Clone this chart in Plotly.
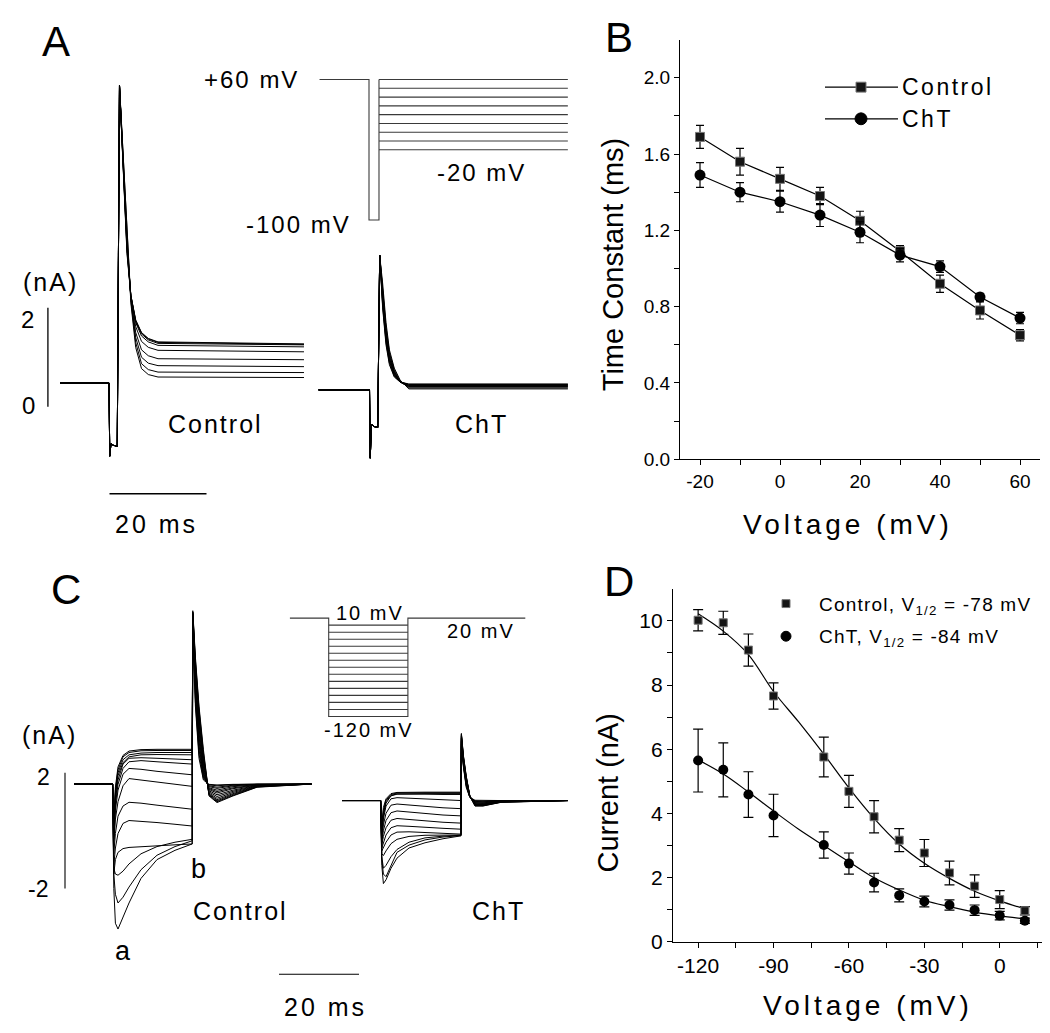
import plotly.graph_objects as go

W, H = 1050, 1033
FONT = "Liberation Sans, Arial, Helvetica, sans-serif"

# ---------------- Panel A : tail currents (ms, nA) ----------------
A_CTRL_T = [-10.2, -0.1, 0.05, 0.3, 0.8, 1.6, 2.06, 2.8, 3.6, 4.4, 5.4, 6.6, 8.0, 10.0, 40.1]
A_CTRL_ONSET = [0.48, 0.48, -1.0, -0.75, -0.78, -0.8, 6.5]
A_CTRL_DECAY = [
    [4.70, 3.10, 2.25, 1.75, 1.50, 1.38, 1.31, 1.27],
    [4.75, 3.15, 2.25, 1.75, 1.49, 1.37, 1.30, 1.26],
    [4.80, 3.20, 2.25, 1.72, 1.47, 1.35, 1.28, 1.25],
    [4.85, 3.25, 2.25, 1.70, 1.43, 1.31, 1.24, 1.21],
    [4.90, 3.30, 2.25, 1.62, 1.32, 1.20, 1.14, 1.11],
    [4.95, 3.35, 2.20, 1.50, 1.15, 1.03, 0.97, 0.95],
    [5.00, 3.40, 2.20, 1.40, 1.00, 0.88, 0.83, 0.81],
    [5.05, 3.45, 2.15, 1.30, 0.87, 0.75, 0.70, 0.69],
    [5.10, 3.50, 2.10, 1.20, 0.77, 0.65, 0.60, 0.59],
]
A_CHT_T = [-10.6, -0.1, 0.05, 0.3, 0.8, 1.6, 2.0, 2.6, 3.3, 4.0, 5.0, 6.2, 8.0, 40.8]
A_CHT_ONSET = [0.34, 0.34, -1.04, -0.35, -0.40, -0.42, 3.06]
A_CHT_DECAY = [
    [2.00, 1.25, 0.85, 0.60, 0.50, 0.46, 0.46],
    [2.05, 1.30, 0.88, 0.62, 0.50, 0.45, 0.45],
    [2.10, 1.35, 0.92, 0.64, 0.50, 0.44, 0.44],
    [2.15, 1.40, 0.95, 0.66, 0.50, 0.43, 0.43],
    [2.20, 1.45, 0.98, 0.68, 0.50, 0.42, 0.42],
    [2.25, 1.50, 1.02, 0.70, 0.50, 0.41, 0.41],
    [2.30, 1.55, 1.06, 0.72, 0.50, 0.40, 0.40],
    [2.40, 1.62, 1.10, 0.75, 0.52, 0.38, 0.38],
    [2.50, 1.70, 1.15, 0.78, 0.54, 0.36, 0.36],
]
# voltage protocol A (ms, mV)
PROT_A_START_MS = -10.2
PROT_A_PRE_END_MS = 2.06
PROT_A_END_MS = 41.0
PROT_A_HOLD_MV = 60
PROT_A_PRE_MV = -100
PROT_A_STEPS_MV = [60, 50, 40, 30, 20, 10, 0, -10, -20]

# ---------------- Panel B ----------------
B_VOLT = [-20, -10, 0, 10, 20, 30, 40, 50, 60]
B_CTRL = [1.69, 1.56, 1.47, 1.38, 1.25, 1.09, 0.92, 0.78, 0.65]
B_CTRL_ERR = [0.06, 0.07, 0.06, 0.045, 0.05, 0.03, 0.045, 0.045, 0.03]
B_CHT = [1.49, 1.40, 1.35, 1.28, 1.19, 1.07, 1.01, 0.85, 0.74]
B_CHT_ERR = [0.065, 0.05, 0.055, 0.06, 0.055, 0.035, 0.03, 0.02, 0.03]
B_XTICKS = [-20, -10, 0, 10, 20, 30, 40, 50, 60]
B_XLABELS = ["-20", "", "0", "", "20", "", "40", "", "60"]
B_YTICKS = [0.0, 0.2, 0.4, 0.6, 0.8, 1.0, 1.2, 1.4, 1.6, 1.8, 2.0]
B_YLABELS = ["0.0", "", "0.4", "", "0.8", "", "1.2", "", "1.6", "", "2.0"]

# ---------------- Panel C : Ih traces (ms, nA) ----------------
C_CTRL_T = [-9.75, -0.1, 0.2, 0.6, 1.25, 2.5, 4.0, 7.0, 11.0, 15.5, 19.8,
            19.95, 20.6, 21.5, 22.6, 24.0, 26.0, 30.0, 36.0, 49.6]
C_CTRL_BASE = 1.61
C_CTRL_STEP = [
    [0.3, 1.5, 2.2, 2.6, 2.75, 2.8, 2.81, 2.81, 2.81],
    [0.2, 1.4, 2.1, 2.55, 2.7, 2.76, 2.77, 2.77, 2.77],
    [0.1, 1.3, 2.0, 2.45, 2.62, 2.68, 2.7, 2.7, 2.7],
    [0.0, 1.2, 1.9, 2.35, 2.55, 2.62, 2.63, 2.62, 2.62],
    [-0.1, 1.05, 1.75, 2.3, 2.5, 2.52, 2.5, 2.47, 2.45],
    [-0.2, 0.9, 1.6, 2.15, 2.38, 2.42, 2.38, 2.34, 2.3],
    [-0.3, 0.7, 1.4, 1.95, 2.15, 2.12, 2.05, 1.98, 1.93],
    [-0.5, 0.4, 1.0, 1.55, 1.8, 1.75, 1.67, 1.6, 1.53],
    [-0.8, -0.1, 0.5, 0.85, 0.98, 0.95, 0.88, 0.8, 0.74],
    [-1.2, -0.6, -0.1, 0.25, 0.35, 0.33, 0.28, 0.22, 0.16],
    [-1.5, -1.0, -0.75, -0.62, -0.58, -0.55, -0.52, -0.49, -0.46],
    [-1.3, -1.5, -1.54, -1.4, -1.15, -0.8, -0.55, -0.4, -0.3],
    [-1.5, -2.2, -2.5, -2.3, -1.95, -1.35, -0.85, -0.55, -0.35],
    [-2.0, -3.2, -3.4, -3.0, -2.5, -1.65, -1.0, -0.68, -0.46],
]
C_CTRL_TAIL = [
    [7.20, 4.30, 2.50, 1.75, 1.60, 1.58, 1.60, 1.61, 1.61],
    [7.25, 4.45, 2.65, 1.80, 1.58, 1.55, 1.59, 1.61, 1.61],
    [7.30, 4.60, 2.80, 1.85, 1.55, 1.50, 1.57, 1.60, 1.61],
    [7.30, 4.75, 2.95, 1.90, 1.52, 1.46, 1.55, 1.60, 1.61],
    [7.35, 4.90, 3.10, 1.95, 1.48, 1.40, 1.52, 1.59, 1.61],
    [7.35, 5.05, 3.25, 2.02, 1.45, 1.35, 1.48, 1.58, 1.61],
    [7.40, 5.20, 3.40, 2.10, 1.42, 1.30, 1.45, 1.57, 1.61],
    [7.40, 5.35, 3.55, 2.20, 1.38, 1.24, 1.40, 1.56, 1.61],
    [7.45, 5.50, 3.70, 2.30, 1.34, 1.18, 1.36, 1.55, 1.61],
    [7.50, 5.60, 3.85, 2.40, 1.30, 1.12, 1.32, 1.54, 1.61],
    [7.50, 5.70, 4.00, 2.50, 1.27, 1.07, 1.28, 1.53, 1.61],
    [7.55, 5.80, 4.10, 2.60, 1.25, 1.03, 1.25, 1.52, 1.61],
    [7.55, 5.90, 4.20, 2.70, 1.22, 1.00, 1.22, 1.51, 1.61],
    [7.60, 6.00, 4.30, 2.80, 1.20, 0.97, 1.20, 1.50, 1.61],
]
C_CHT_T = [-9.75, -0.1, 0.2, 0.6, 1.25, 2.5, 4.0, 7.0, 11.0, 15.5, 20.0,
           20.1, 20.6, 21.3, 22.2, 23.5, 25.5, 30.0, 46.75]
C_CHT_BASE = 1.04
C_CHT_STEP = [
    [0.2, 0.8, 1.1, 1.28, 1.32, 1.33, 1.33, 1.33, 1.33],
    [0.1, 0.7, 1.05, 1.25, 1.3, 1.31, 1.31, 1.31, 1.31],
    [0.0, 0.6, 1.0, 1.22, 1.27, 1.28, 1.28, 1.28, 1.28],
    [-0.1, 0.5, 0.95, 1.2, 1.26, 1.27, 1.26, 1.25, 1.25],
    [-0.2, 0.4, 0.85, 1.1, 1.14, 1.12, 1.09, 1.06, 1.04],
    [-0.3, 0.2, 0.6, 0.88, 0.92, 0.88, 0.83, 0.79, 0.76],
    [-0.4, 0.0, 0.35, 0.62, 0.68, 0.64, 0.58, 0.54, 0.51],
    [-0.5, -0.2, 0.1, 0.36, 0.42, 0.38, 0.33, 0.29, 0.26],
    [-0.6, -0.4, -0.15, 0.1, 0.17, 0.15, 0.11, 0.08, 0.05],
    [-0.7, -0.6, -0.4, -0.15, -0.05, -0.04, -0.07, -0.1, -0.12],
    [-0.8, -0.86, -0.7, -0.45, -0.3, -0.2, -0.16, -0.15, -0.15],
    [-0.9, -1.3, -1.2, -0.9, -0.65, -0.4, -0.25, -0.19, -0.16],
    [-1.0, -1.5, -1.59, -1.2, -0.75, -0.5, -0.32, -0.22, -0.17],
    [-1.2, -1.83, -1.7, -1.3, -0.95, -0.6, -0.42, -0.28, -0.18],
]
C_CHT_TAIL = [
    [3.00, 2.20, 1.50, 1.15, 1.05, 1.04, 1.04, 1.04],
    [3.05, 2.25, 1.55, 1.15, 1.03, 1.02, 1.04, 1.04],
    [3.10, 2.28, 1.58, 1.16, 1.01, 1.00, 1.03, 1.04],
    [3.12, 2.32, 1.62, 1.16, 0.99, 0.98, 1.03, 1.04],
    [3.15, 2.35, 1.65, 1.17, 0.97, 0.96, 1.02, 1.04],
    [3.18, 2.38, 1.68, 1.17, 0.95, 0.94, 1.02, 1.04],
    [3.20, 2.40, 1.72, 1.18, 0.93, 0.92, 1.01, 1.04],
    [3.22, 2.43, 1.75, 1.18, 0.92, 0.91, 1.01, 1.04],
    [3.25, 2.46, 1.78, 1.19, 0.90, 0.90, 1.00, 1.04],
    [3.27, 2.49, 1.80, 1.19, 0.89, 0.89, 1.00, 1.04],
    [3.30, 2.52, 1.83, 1.20, 0.88, 0.88, 0.99, 1.04],
    [3.32, 2.55, 1.85, 1.20, 0.87, 0.87, 0.99, 1.04],
    [3.34, 2.58, 1.88, 1.20, 0.86, 0.86, 0.98, 1.04],
    [3.36, 2.60, 1.90, 1.20, 0.85, 0.85, 0.98, 1.04],
]
# voltage protocol C (ms, mV)
PROT_C_START_MS = -9.7
PROT_C_STEP_END_MS = 19.8
PROT_C_END_MS = 49.15
PROT_C_HOLD_MV = 20
PROT_C_STEPS_MV = [10, 0, -10, -20, -30, -40, -50, -60, -70, -80, -90, -100, -110, -120]

# ---------------- Panel D ----------------
D_VOLT = [-120, -110, -100, -90, -70, -60, -50, -40, -30, -20, -10, 0, 10]
D_CTRL = [10.02, 9.94, 9.09, 7.66, 5.76, 4.69, 3.90, 3.17, 2.77, 2.15, 1.74, 1.32, 0.97]
D_CTRL_ERR = [0.33, 0.36, 0.50, 0.41, 0.62, 0.50, 0.50, 0.36, 0.42, 0.37, 0.35, 0.28, 0.13]
D_CHT = [5.65, 5.36, 4.59, 3.94, 3.02, 2.44, 1.85, 1.45, 1.26, 1.15, 0.99, 0.82, 0.66]
D_CHT_ERR = [0.98, 0.84, 0.71, 0.66, 0.41, 0.33, 0.29, 0.20, 0.17, 0.16, 0.16, 0.13, 0.08]
D_FIT_V = [-120, -110, -100, -90, -80, -70, -60, -50, -40, -30, -20, -10, 0, 10]
D_FIT_CTRL = [10.22, 9.68, 8.95, 7.80, 6.85, 5.85, 4.80, 3.85, 3.05, 2.45, 1.98, 1.58, 1.28, 1.03]
D_FIT_CHT = [5.67, 5.23, 4.67, 4.08, 3.51, 3.00, 2.50, 2.00, 1.62, 1.30, 1.10, 0.93, 0.81, 0.72]
D_XTICKS = [-120, -105, -90, -75, -60, -45, -30, -15, 0, 15]
D_XLABELS = ["-120", "", "-90", "", "-60", "", "-30", "", "0", ""]
D_YTICKS = list(range(0, 11))
D_YLABELS = ["0", "", "2", "", "4", "", "6", "", "8", "", "10"]

SCALE_A_NA = 2
SCALE_A_MS = 20
SCALE_C_NA = 2
SCALE_C_MS = 20


# ---------------- helpers ----------------
def xdom(px0, px1, origin, scale):
    return dict(domain=[px0 / W, px1 / W], range=[(px0 - origin) / scale, (px1 - origin) / scale])


def ydom(py_top, py_bot, zero, scale):
    return dict(domain=[1 - py_bot / H, 1 - py_top / H], range=[(zero - py_bot) / scale, (zero - py_top) / scale])


def hidden(d, anchor):
    d.update(visible=False, showgrid=False, zeroline=False, fixedrange=True, anchor=anchor)
    return d


def txt(s, px, py, size, xanchor="center", ls=0, angle=0):
    if ls:
        s = f"<span style='letter-spacing:{ls}px'>{s}</span>"
    return dict(text=s, x=px / W, y=1 - py / H, xref="paper", yref="paper",
                xanchor=xanchor, yanchor="middle", showarrow=False, textangle=angle,
                borderpad=0, font=dict(family=FONT, size=size, color="black"))


def pline(px0, py0, px1, py1, width=1.2, color="black"):
    return dict(type="line", xref="paper", yref="paper", x0=px0 / W, y0=1 - py0 / H,
                x1=px1 / W, y1=1 - py1 / H, line=dict(color=color, width=width))


fig = go.Figure()
trace_line = dict(color="black", width=1)

# Panel A traces
for row in A_CTRL_DECAY:
    fig.add_trace(go.Scatter(x=A_CTRL_T, y=A_CTRL_ONSET + row, mode="lines", line=trace_line,
                             xaxis="x", yaxis="y", hoverinfo="skip"))
for row in A_CHT_DECAY:
    fig.add_trace(go.Scatter(x=A_CHT_T, y=A_CHT_ONSET + row, mode="lines", line=trace_line,
                             xaxis="x2", yaxis="y2", hoverinfo="skip"))
prot_line = dict(color="#3a3a3a", width=1.1)
fig.add_trace(go.Scatter(
    x=[PROT_A_START_MS, 0, 0, PROT_A_PRE_END_MS, PROT_A_PRE_END_MS],
    y=[PROT_A_HOLD_MV, PROT_A_HOLD_MV, PROT_A_PRE_MV, PROT_A_PRE_MV, PROT_A_STEPS_MV[0]],
    mode="lines", line=prot_line, xaxis="x3", yaxis="y3", hoverinfo="skip"))
for v in PROT_A_STEPS_MV:
    fig.add_trace(go.Scatter(x=[PROT_A_PRE_END_MS, PROT_A_END_MS], y=[v, v], mode="lines",
                             line=prot_line, xaxis="x3", yaxis="y3", hoverinfo="skip"))

# Panel B
fig.add_trace(go.Scatter(x=B_VOLT, y=B_CTRL, mode="lines+markers", xaxis="x4", yaxis="y4",
                         line=dict(color="black", width=1.2),
                         marker=dict(symbol="square", size=9, color="#151515", line=dict(color="#777", width=1)),
                         error_y=dict(type="data", array=B_CTRL_ERR, thickness=1.2, width=4, color="black")))
fig.add_trace(go.Scatter(x=B_VOLT, y=B_CHT, mode="lines+markers", xaxis="x4", yaxis="y4",
                         line=dict(color="black", width=1.2),
                         marker=dict(symbol="circle", size=11, color="black"),
                         error_y=dict(type="data", array=B_CHT_ERR, thickness=1.2, width=4, color="black")))

# Panel C traces
for s_row, t_row in zip(C_CTRL_STEP, C_CTRL_TAIL):
    fig.add_trace(go.Scatter(x=C_CTRL_T, y=[C_CTRL_BASE, C_CTRL_BASE] + s_row + t_row, mode="lines",
                             line=trace_line, xaxis="x5", yaxis="y5", hoverinfo="skip"))
for s_row, t_row in zip(C_CHT_STEP, C_CHT_TAIL):
    fig.add_trace(go.Scatter(x=C_CHT_T, y=[C_CHT_BASE, C_CHT_BASE] + s_row + t_row, mode="lines",
                             line=trace_line, xaxis="x6", yaxis="y6", hoverinfo="skip"))
fig.add_trace(go.Scatter(
    x=[PROT_C_START_MS, 0, 0, PROT_C_STEP_END_MS, PROT_C_STEP_END_MS, PROT_C_END_MS],
    y=[PROT_C_HOLD_MV, PROT_C_HOLD_MV, PROT_C_STEPS_MV[-1], PROT_C_STEPS_MV[-1], PROT_C_HOLD_MV, PROT_C_HOLD_MV],
    mode="lines", line=prot_line, xaxis="x7", yaxis="y7", hoverinfo="skip"))
for v in PROT_C_STEPS_MV:
    fig.add_trace(go.Scatter(x=[0, PROT_C_STEP_END_MS], y=[v, v], mode="lines",
                             line=prot_line, xaxis="x7", yaxis="y7", hoverinfo="skip"))

# Panel D
fig.add_trace(go.Scatter(x=D_FIT_V, y=D_FIT_CTRL, mode="lines", line=dict(color="black", width=1.2, shape="spline"),
                         xaxis="x8", yaxis="y8"))
fig.add_trace(go.Scatter(x=D_FIT_V, y=D_FIT_CHT, mode="lines", line=dict(color="black", width=1.2, shape="spline"),
                         xaxis="x8", yaxis="y8"))
fig.add_trace(go.Scatter(x=D_VOLT, y=D_CTRL, mode="markers", xaxis="x8", yaxis="y8",
                         marker=dict(symbol="square", size=8, color="#151515", line=dict(color="#777", width=1)),
                         error_y=dict(type="data", array=D_CTRL_ERR, thickness=1.2, width=5, color="black")))
fig.add_trace(go.Scatter(x=D_VOLT, y=D_CHT, mode="markers", xaxis="x8", yaxis="y8",
                         marker=dict(symbol="circle", size=10, color="black"),
                         error_y=dict(type="data", array=D_CHT_ERR, thickness=1.2, width=5, color="black")))

axis_common = dict(showline=True, linecolor="black", linewidth=1.3, ticks="outside", ticklen=5,
                   tickwidth=1.2, tickcolor="black", showgrid=False, zeroline=False, fixedrange=True,
                   tickfont=dict(family=FONT, size=19, color="black"))

layout = dict(
    width=W, height=H, autosize=False, margin=dict(l=0, r=0, t=0, b=0),
    paper_bgcolor="white", plot_bgcolor="rgba(0,0,0,0)", showlegend=False,
    xaxis=hidden(xdom(30, 300, 101.5, 4.85), "y"),
    yaxis=hidden(ydom(40, 545, 403, 50), "x"),
    xaxis2=hidden(xdom(300, 565, 362, 4.85), "y2"),
    yaxis2=hidden(ydom(40, 545, 403, 50), "x2"),
    xaxis3=hidden(xdom(300, 565, 361, 4.85), "y3"),
    yaxis3=hidden(ydom(50, 240, 125.55, 0.8875), "x3"),
    xaxis4=dict(axis_common, domain=[672 / W, 1032 / W], range=[-25, 65], anchor="y4",
                tickmode="array", tickvals=B_XTICKS, ticktext=B_XLABELS),
    yaxis4=dict(axis_common, domain=[1 - 456 / H, 1 - 32 / H], range=[0, 2.2], anchor="x4",
                tickmode="array", tickvals=B_YTICKS, ticktext=B_YLABELS),
    xaxis5=hidden(xdom(40, 380, 105, 4.0), "y5"),
    yaxis5=hidden(ydom(560, 1000, 831.5, 29.25), "x5"),
    xaxis6=hidden(xdom(300, 565, 373, 4.0), "y6"),
    yaxis6=hidden(ydom(560, 1000, 831.5, 29.25), "x6"),
    xaxis7=hidden(xdom(260, 540, 320.7, 4.0), "y7"),
    yaxis7=hidden(ydom(595, 740, 630.9, 0.71), "x7"),
    xaxis8=dict(axis_common, domain=[665 / W, 1042 / W], range=[-130, 20], anchor="y8",
                tickmode="array", tickvals=D_XTICKS, ticktext=D_XLABELS,
                tickfont=dict(family=FONT, size=21, color="black")),
    yaxis8=dict(axis_common, domain=[1 - 944 / H, 1 - 587 / H], range=[0, 11], anchor="x8",
                tickmode="array", tickvals=D_YTICKS, ticktext=D_YLABELS,
                tickfont=dict(family=FONT, size=21, color="black")),
)
fig.update_layout(**layout)

shapes = []
# scale bars (data-referenced)
shapes.append(dict(type="line", xref="x", yref="y", x0=-12.7, x1=-12.7, y0=0, y1=SCALE_A_NA,
                   line=dict(color="black", width=1.3)))
shapes.append(dict(type="line", xref="x", yref="y", x0=0, x1=SCALE_A_MS, y0=-1.76, y1=-1.76,
                   line=dict(color="black", width=1.3)))
shapes.append(dict(type="line", xref="x5", yref="y5", x0=-12, x1=-12, y0=-SCALE_C_NA, y1=SCALE_C_NA,
                   line=dict(color="black", width=1.1)))
shapes.append(dict(type="line", xref="x5", yref="y5", x0=41.5, x1=41.5 + SCALE_C_MS, y0=-4.96, y1=-4.96,
                   line=dict(color="black", width=1.1)))
# legend B
shapes.append(pline(817, 80, 890, 80))
shapes.append(pline(817, 112, 890, 112))
shapes.append(dict(type="rect", xref="paper", yref="paper", x0=848 / W, x1=858 / W, y0=1 - 85 / H, y1=1 - 75 / H,
                   fillcolor="#151515", line=dict(color="#777", width=1)))
shapes.append(dict(type="circle", xref="paper", yref="paper", x0=847 / W, x1=859 / W, y0=1 - 118 / H, y1=1 - 106 / H,
                   fillcolor="black", line=dict(color="black", width=1)))
# legend D
shapes.append(dict(type="rect", xref="paper", yref="paper", x0=774 / W, x1=782 / W, y0=1 - 606 / H, y1=1 - 598 / H,
                   fillcolor="#151515", line=dict(color="#777", width=1)))
shapes.append(dict(type="circle", xref="paper", yref="paper", x0=773 / W, x1=783 / W, y0=1 - 640 / H, y1=1 - 630 / H,
                   fillcolor="black", line=dict(color="black", width=1)))
fig.update_layout(shapes=shapes)

ann = [
    txt("A", 48, 34, 42), txt("B", 611, 30, 42), txt("C", 58, 588, 42), txt("D", 611, 580, 42),
    txt("+60 mV", 292, 72, 24, xanchor="right", ls=2),
    txt("-100 mV", 290, 219, 24, ls=2),
    txt("-20 mV", 474, 166, 24, ls=2),
    txt("(nA)", 42, 277, 25, ls=2),
    txt("2", 19, 315, 24), txt("0", 20, 402, 24),
    txt("Control", 207, 420, 25, ls=2), txt("ChT", 474, 420, 25, ls=2),
    txt("20 ms", 148, 522, 25, ls=3),
    txt("10 mV", 362, 612, 20, ls=2), txt("20 mV", 473, 630, 20, ls=2), txt("-120 mV", 361, 730, 20, ls=2),
    txt("(nA)", 41, 735, 25, ls=2),
    txt("2", 35, 777, 23), txt("-2", 30, 890, 23),
    txt("b", 190, 870, 27), txt("a", 115, 953, 27),
    txt("Control", 232, 913, 25, ls=2), txt("ChT", 490, 913, 25, ls=2),
    txt("20 ms", 317, 1010, 25, ls=3),
    # panel B titles / legend
    txt("Time Constant (ms)", 605, 259, 29, angle=-90),
    txt("Voltage (mV)", 840, 522, 28, ls=4),
    txt("Control", 893, 80, 23, xanchor="left", ls=2.5),
    txt("ChT", 893, 112, 23, xanchor="left", ls=2.5),
    # panel D titles / legend
    txt("Current (nA)", 600, 793, 29, angle=-90),
    txt("Voltage (mV)", 860, 1008, 28, ls=4),
    txt("Control, V<sub>1/2</sub> = -78 mV", 810, 604, 19, xanchor="left", ls=1.2),
    txt("ChT, V<sub>1/2</sub> = -84 mV", 810, 637, 19, xanchor="left", ls=1.2),
]
fig.update_layout(annotations=ann)

fig.write_html("out.html")
